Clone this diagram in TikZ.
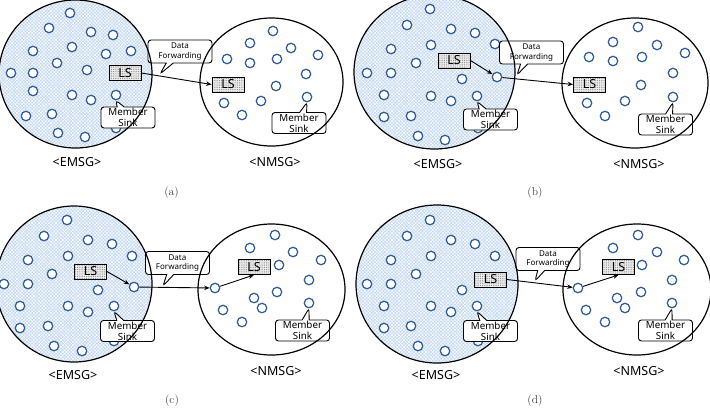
\documentclass[tikz,border=0pt]{standalone}
\usepackage{fontspec}
\usepackage{tikz}
\usetikzlibrary{shapes.callouts}
\usetikzlibrary{arrows.meta}
\usetikzlibrary{patterns.meta}
\usepackage{xcolor}
\newfontfamily\grpfont{Noto Sans}
\definecolor{memblue}{RGB}{46,92,152}
\definecolor{emsgblue}{RGB}{196,216,240}

\begin{document}
\begin{tikzpicture}[x=1pt,y=-1pt,
  mem/.style={circle,draw=memblue,fill=white,line width=1.25pt,minimum size=9.5pt,inner sep=0pt},
  emsg/.style={preaction={fill=emsgblue},pattern={Lines[angle=45,distance=2.4pt,line width=.45pt]},pattern color=white,
    postaction={pattern={Lines[angle=-45,distance=2.4pt,line width=.45pt]},pattern color=white}},
  grp/.style={draw,line width=1.2pt},
  lsbox/.style={draw,line width=.9pt,preaction={fill=black!6},pattern={Dots[distance=1.8pt,radius=.5pt]},pattern color=black!50,
    minimum width=32pt,minimum height=15pt,inner sep=0pt,font=\grpfont\fontsize{12.5}{12.5}\selectfont},
  call/.style={rectangle callout,draw,fill=white,line width=.9pt,rounded corners=3pt,align=center,inner sep=1pt,callout pointer width=7pt},
  dfcall/.style={call,font=\grpfont\fontsize{8}{9.5}\selectfont,minimum width=64pt,minimum height=23pt},
  mscall/.style={call,font=\grpfont\fontsize{9.8}{11}\selectfont,minimum width=54pt,minimum height=21pt},
  arr/.style={-{Stealth[length=5.5pt,width=4.5pt]},line width=.9pt},
  grplabel/.style={font=\grpfont\fontsize{12.5}{12.5}\selectfont},
  captext/.style={font=\fontsize{11.5}{11.5}\selectfont,text=black!75}]
\useasboundingbox (0,0) rectangle (710,408);
\clip (0,0) rectangle (710,408);
% ---- EMSG areas
\fill[emsg] (75.5,74) ellipse [x radius=76.5,y radius=74];
\fill[emsg] (434.5,72) ellipse [x radius=80.5,y radius=77];
\fill[emsg] (74,284) ellipse [x radius=78,y radius=78];
\fill[emsg] (437,284) ellipse [x radius=81,y radius=79];
% ---- (a) members
\foreach \p [count=\i] in {(70,13),(49,28),(91,32),(113,35),(33,51),(72,47),(106,54),(131,51),(57,63),(87,70),
  (11,73),(33,73),(33,91),(72,95),(91,100),(26,116),(52,114),(58,133),(85,137),(116,128)}
  \node[mem] (a-e\i) at \p {};
\foreach \p [count=\i] in {(273,31),(250,43),(291,48),(318,55),(227,59),(250,63),(277,59),(306,74),(276,86),
  (224,103),(261,101),(242,115)}
  \node[mem] (a-n\i) at \p {};
\node[mem] (a-ems) at (116,95) {};
\node[mem] (a-nms) at (307,97) {};
% ---- (b) members
\foreach \p [count=\i] in {(430,9),(407,25),(451,29),(475,33),(391,49),(431,45),(495,44),(416,63),(367,73),(391,73),
  (462,79),(384,95),(431,96),(451,101),(384,117),(411,116),(418,136),(445,140),(478,128)}
  \node[mem] (b-e\i) at \p {};
\foreach \p [count=\i] in {(638,27),(613,42),(657,45),(685,53),(589,57),(613,61),(642,57),(673,73),(641,85),
  (587,103),(625,101),(605,116)}
  \node[mem] (b-n\i) at \p {};
\node[mem] (b-fwd) at (497,77) {};
\node[mem] (b-ems) at (477,96) {};
\node[mem] (b-nms) at (673,97) {};
% ---- (c) members
\foreach \p [count=\i] in {(67,220),(44,236),(88,240),(112,244),(28,260),(68,256),(132,256),(52,274),(4,284),(28,284),
  (98,290),(20,306),(68,306),(88,312),(20,328),(48,326),(54,346),(82,351),(114,341)}
  \node[mem] (c-e\i) at \p {};
\foreach \p [count=\i] in {(275,235),(250,248),(293,252),(321,260),(279,265),(309,280),(277,292),(254,298),
  (262,308),(223,310),(242,322)}
  \node[mem] (c-n\i) at \p {};
\node[mem] (c-fwd) at (134,287) {};
\node[mem] (c-ent) at (215,288) {};
\node[mem] (c-ems) at (114,306) {};
\node[mem] (c-nms) at (309,303) {};
% ---- (d) members
\foreach \p [count=\i] in {(430,220),(407,236),(451,240),(475,244),(391,260),(431,256),(495,256),(416,274),(367,284),
  (391,284),(462,290),(384,306),(431,306),(451,312),(384,328),(411,326),(418,346),(445,351),(478,341)}
  \node[mem] (d-e\i) at \p {};
\foreach \p [count=\i] in {(638,235),(613,248),(657,252),(684,260),(642,265),(672,280),(641,292),(617,298),
  (625,308),(586,310),(605,322)}
  \node[mem] (d-n\i) at \p {};
\node[mem] (d-ent) at (578,288) {};
\node[mem] (d-ems) at (477,306) {};
\node[mem] (d-nms) at (672,303) {};
% ---- LS boxes
\node[lsbox] (a-lse) at (125,73) {LS};
\node[lsbox] (a-lsn) at (228,84.5) {LS};
\node[lsbox] (b-lse) at (454,60.5) {LS};
\node[lsbox] (b-lsn) at (589.5,84.5) {LS};
\node[lsbox] (c-lse) at (90.5,271.5) {LS};
\node[lsbox] (c-lsn) at (254,267) {LS};
\node[lsbox] (d-lse) at (490.5,279.5) {LS};
\node[lsbox] (d-lsn) at (618.5,267) {LS};
% ---- callouts
\coordinate (a-tip) at (160,74);
\coordinate (b-tip) at (517,75);
\coordinate (c-tip) at (163,286);
\coordinate (d-tip) at (535,281);
\node[dfcall,callout absolute pointer={(a-tip)}] (a-df) at (180,51.5) {Data\\Forwarding};
\node[dfcall,callout absolute pointer={(b-tip)}] (b-df) at (531.5,52.5) {Data\\Forwarding};
\node[dfcall,callout absolute pointer={(c-tip)}] (c-df) at (177.5,263) {Data\\Forwarding};
\node[dfcall,callout absolute pointer={(d-tip)}] (d-df) at (548,259) {Data\\Forwarding};
\node[mscall,callout absolute pointer={(a-ems.south)}] (a-mse) at (128,117.5) {Member\\Sink};
\node[mscall,callout absolute pointer={(a-nms.south)}] (a-msn) at (299,123) {Member\\Sink};
\node[mscall,callout absolute pointer={(b-ems.south)}] (b-mse) at (490.5,119.5) {Member\\Sink};
\node[mscall,callout absolute pointer={(b-nms.south)}] (b-msn) at (665.5,124.5) {Member\\Sink};
\node[mscall,callout absolute pointer={(c-ems.south)}] (c-mse) at (127.5,331) {Member\\Sink};
\node[mscall,callout absolute pointer={(c-nms.south)}] (c-msn) at (302.5,330.5) {Member\\Sink};
\node[mscall,callout absolute pointer={(d-ems.south)}] (d-mse) at (490.5,331) {Member\\Sink};
\node[mscall,callout absolute pointer={(d-nms.south)}] (d-msn) at (665.5,330.5) {Member\\Sink};
% ---- group outlines
\draw[grp] (75.5,74) ellipse [x radius=76.5,y radius=74];
\draw[grp] (271.5,82) ellipse [x radius=71.5,y radius=64];
\draw[grp] (434.5,72) ellipse [x radius=80.5,y radius=77];
\draw[grp] (635,83) ellipse [x radius=73,y radius=65];
\draw[grp] (74,284) ellipse [x radius=78,y radius=78];
\draw[grp] (271.5,289.5) ellipse [x radius=73.5,y radius=65.5];
\draw[grp] (437,284) ellipse [x radius=81,y radius=79];
\draw[grp] (637,289.5) ellipse [x radius=74,y radius=65.5];
% ---- forwarding paths
\draw[arr] (a-lse.east) -- (a-lsn.west);
\draw[arr] (b-lse.east) -- (b-fwd);
\draw[arr] (b-fwd) -- (b-lsn.west);
\draw[arr] (c-lse.east) -- (c-fwd);
\draw[arr] (c-fwd) -- (c-ent);
\draw[arr] (c-ent) -- (c-lsn.south);
\draw[arr] (d-lse.east) -- (d-ent);
\draw[arr] (d-ent) -- (d-lsn.south);
% ---- group labels and captions
\node[grplabel] (a-el) at (77,162) {<EMSG>};
\node[grplabel] (a-nl) at (275,162) {<NMSG>};
\node[grplabel] (b-el) at (438,164) {<EMSG>};
\node[grplabel] (b-nl) at (639,164) {<NMSG>};
\node[grplabel] (c-el) at (73,375.5) {<EMSG>};
\node[grplabel] (c-nl) at (276,371) {<NMSG>};
\node[grplabel] (d-el) at (436,375.5) {<EMSG>};
\node[grplabel] (d-nl) at (639,371) {<NMSG>};
\node[captext] (a-cap) at (171.5,192.5) {(a)};
\node[captext] (b-cap) at (535,192.5) {(b)};
\node[captext] (c-cap) at (172,401) {(c)};
\node[captext] (d-cap) at (535,401) {(d)};
\end{tikzpicture}
\end{document}
